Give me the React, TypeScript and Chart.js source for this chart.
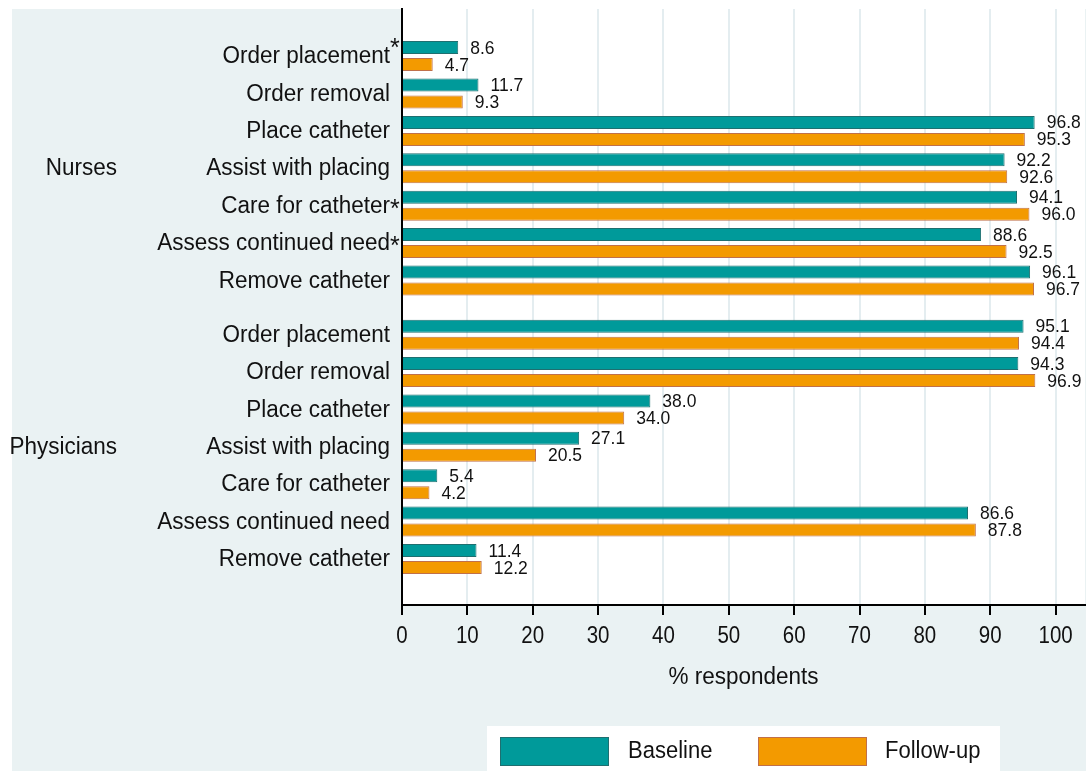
import { useEffect, useRef } from "react";
import { Chart, registerables } from "chart.js";

Chart.register(...registerables);

// ---------------- data ----------------
const groupNames = ["Nurses", "Physicians"];
const itemNames = [
  "Order placement",
  "Order removal",
  "Place catheter",
  "Assist with placing",
  "Care for catheter",
  "Assess continued need",
  "Remove catheter",
];
const nursesBaseline = [8.6, 11.7, 96.8, 92.2, 94.1, 88.6, 96.1];
const nursesFollowUp = [4.7, 9.3, 95.3, 92.6, 96.0, 92.5, 96.7];
const physiciansBaseline = [95.1, 94.3, 38.0, 27.1, 5.4, 86.6, 11.4];
const physiciansFollowUp = [94.4, 96.9, 34.0, 20.5, 4.2, 87.8, 12.2];
// rows marked with an asterisk (significant change)
const nursesMarked = [true, false, false, false, true, true, false];
const physiciansMarked = [false, false, false, false, false, false, false];
const seriesNames = ["Baseline", "Follow-up"];
const xTickValues = [0, 10, 20, 30, 40, 50, 60, 70, 80, 90, 100];
const xAxisTitle = "% respondents";

// ---------------- layout helpers ----------------
const GROUP_GAP = 1.45; // extra space between the two groups (in rows)
const rowPositions: number[] = [];
const rowLabels: string[] = [];
const rowMarked: boolean[] = [];
[nursesMarked, physiciansMarked].forEach((marks, g) => {
  itemNames.forEach((name, i) => {
    rowPositions.push(g * (itemNames.length - 1 + GROUP_GAP) + i);
    rowLabels.push(name);
    rowMarked.push(marks[i]);
  });
});
const baselineAll = [...nursesBaseline, ...physiciansBaseline];
const followUpAll = [...nursesFollowUp, ...physiciansFollowUp];

const FONT = '"Liberation Sans", Arial, Helvetica, sans-serif';
const TEXT = "#111111";
const TEAL = "#009a9a";
const TEAL_EDGE = "#1f6f70";
const ORANGE = "#f39a00";
const ORANGE_EDGE = "#c0704a";
const BG = "#eaf2f3";
const GRID = "#e4edf0";

function stretchedText(
  ctx: CanvasRenderingContext2D,
  text: string,
  x: number,
  y: number,
  align: CanvasTextAlign,
  sy: number
) {
  ctx.save();
  ctx.translate(x, y);
  ctx.scale(1, sy);
  ctx.textAlign = align;
  ctx.textBaseline = "middle";
  ctx.fillText(text, 0, 0);
  ctx.restore();
}

const decorations = {
  id: "decorations",
  beforeDraw(chart: any) {
    const { ctx, chartArea: a, width, height } = chart;
    ctx.save();
    ctx.fillStyle = BG;
    ctx.fillRect(12, 9, width - 12, height - 9);
    ctx.fillStyle = "#ffffff";
    ctx.fillRect(a.left, a.top, a.right - a.left, a.bottom - a.top);
    ctx.restore();
  },
  afterDraw(chart: any) {
    const { ctx, chartArea: a } = chart;
    const yScale = chart.scales.y;
    const xScale = chart.scales.x;
    ctx.save();
    ctx.fillStyle = TEXT;

    // category labels
    ctx.font = `22.5px ${FONT}`;
    rowPositions.forEach((p, i) => {
      const y = yScale.getPixelForValue(p);
      stretchedText(ctx, rowLabels[i], a.left - 12, y + 0.5, "right", 1.07);
    });
    // asterisks
    ctx.font = `25px ${FONT}`;
    ctx.textAlign = "left";
    ctx.textBaseline = "alphabetic";
    rowPositions.forEach((p, i) => {
      if (!rowMarked[i]) return;
      const y = yScale.getPixelForValue(p);
      const raise = i % itemNames.length === 0 ? 11 : 0;
      ctx.fillText("*", a.left - 12, y + 11 - raise);
    });

    // group labels
    ctx.font = `22.5px ${FONT}`;
    groupNames.forEach((g, gi) => {
      const mid = rowPositions[gi * itemNames.length + 3];
      stretchedText(ctx, g, 117, yScale.getPixelForValue(mid) + 0.5, "right", 1.07);
    });

    // value labels
    ctx.font = `17.5px ${FONT}`;
    chart.data.datasets.forEach((ds: any, di: number) => {
      const meta = chart.getDatasetMeta(di);
      meta.data.forEach((el: any, i: number) => {
        const v = ds.data[i].x as number;
        stretchedText(ctx, v.toFixed(1), el.x + 12, el.y + 1, "left", 1.05);
      });
    });

    // x tick labels
    ctx.font = `20.5px ${FONT}`;
    xTickValues.forEach((v) => {
      stretchedText(ctx, String(v), xScale.getPixelForValue(v), 636, "center", 1.18);
    });

    // axis title
    ctx.font = `22.5px ${FONT}`;
    stretchedText(ctx, xAxisTitle, (a.left + a.right) / 2, 677, "center", 1.07);

    // legend
    ctx.fillStyle = "#ffffff";
    ctx.fillRect(487, 726, 513, 60);
    const swatches = [
      { x: 500, fill: TEAL, edge: TEAL_EDGE, tx: 628 },
      { x: 758, fill: ORANGE, edge: ORANGE_EDGE, tx: 885 },
    ];
    swatches.forEach((s, i) => {
      ctx.fillStyle = s.fill;
      ctx.fillRect(s.x, 737, 109, 29);
      ctx.strokeStyle = s.edge;
      ctx.lineWidth = 1;
      ctx.strokeRect(s.x + 0.5, 737.5, 108, 28);
      ctx.fillStyle = TEXT;
      ctx.font = `22px ${FONT}`;
      stretchedText(ctx, chart.data.datasets[i].label, s.tx, 752, "left", 1.07);
    });
    ctx.restore();
  },
};

export default function App() {
  const ref = useRef<HTMLCanvasElement | null>(null);

  useEffect(() => {
    document.body.style.margin = "0";
    document.body.style.overflow = "hidden";
    const canvas = ref.current;
    if (!canvas) return;
    const chart = new Chart(canvas, {
      type: "bar",
      data: {
        datasets: [
          {
            label: seriesNames[0],
            data: baselineAll.map((v, i) => ({ x: v, y: rowPositions[i] })),
            backgroundColor: TEAL,
            borderColor: TEAL_EDGE,
            borderWidth: 1,
            categoryPercentage: 0.909,
            barPercentage: 0.765,
          },
          {
            label: seriesNames[1],
            data: followUpAll.map((v, i) => ({ x: v, y: rowPositions[i] })),
            backgroundColor: ORANGE,
            borderColor: ORANGE_EDGE,
            borderWidth: 1,
            categoryPercentage: 0.909,
            barPercentage: 0.765,
          },
        ],
      } as any,
      options: {
        responsive: false,
        animation: false,
        devicePixelRatio: 1,
        indexAxis: "y",
        layout: { padding: { left: 402, top: 9, right: 1, bottom: 126 } },
        plugins: {
          legend: { display: false },
          tooltip: { enabled: false },
        },
        scales: {
          x: {
            type: "linear",
            position: "bottom",
            min: 0,
            max: 104.5,
            offset: false,
            afterBuildTicks: (s: any) => {
              s.ticks = xTickValues.map((v) => ({ value: v }));
            },
            afterFit: (s: any) => {
              s.height = 40;
            },
            grid: {
              color: GRID,
              lineWidth: 2,
              drawTicks: true,
              tickLength: 10,
              tickColor: "#000000",
              tickWidth: 2,
            },
            border: { display: true, color: "#000000", width: 2 },
            ticks: { display: false },
          },
          y: {
            type: "linear",
            reverse: true,
            offset: false,
            min: -1.26,
            max: 14.68,
            afterBuildTicks: (s: any) => {
              s.ticks = rowPositions.map((v) => ({ value: v }));
            },
            afterFit: (s: any) => {
              s.width = 0;
            },
            grid: { display: false, drawTicks: false, offset: false },
            border: { display: true, color: "#000000", width: 2 },
            ticks: { display: false },
          },
        },
      } as any,
      plugins: [decorations],
    });
    return () => chart.destroy();
  }, []);

  return (
    <div style={{ width: 1086, height: 771, position: "relative" }}>
      <canvas ref={ref} width={1086} height={771} style={{ width: 1086, height: 771, display: "block" }} />
    </div>
  );
}
